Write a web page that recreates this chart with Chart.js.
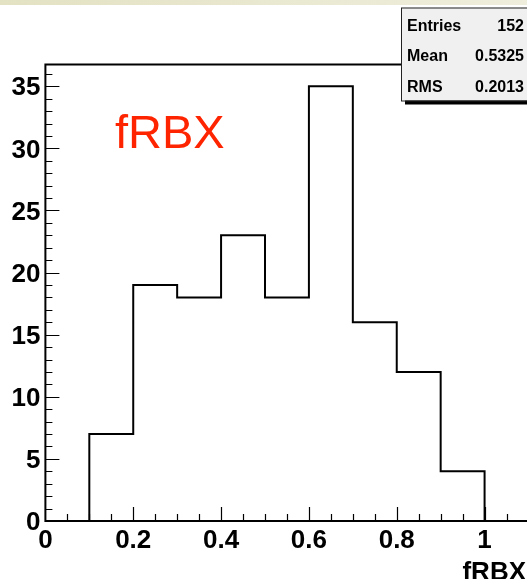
<!DOCTYPE html>
<html>
<head>
<meta charset="utf-8">
<script src="https://cdn.jsdelivr.net/npm/chart.js@4.4.1/dist/chart.umd.min.js"></script>
<style>
  html, body { margin: 0; padding: 0; background: #fff; overflow: hidden; }
  #histo { display: block; }
</style>
</head>
<body>
<canvas id="histo" width="540" height="579"></canvas>
<script>
// bin lower edges and counts (width 0.1)
const binLow = [0, 0.1, 0.2, 0.3, 0.4, 0.5, 0.6, 0.7, 0.8, 0.9, 1.0];
const counts = [0, 7, 19, 18, 23, 18, 35, 16, 12, 4, 0];
const xMax = 1.1;
const yMax = 36.75;

const statLabels = ['Entries', 'Mean', 'RMS'];
const statValues = ['152', '0.5325', '0.2013'];
const histTitle = 'fRBX';
const axisTitle = 'fRBX';

const FONT = '"Liberation Sans", Helvetica, Arial, sans-serif';

const points = binLow.map((x, i) => ({ x: x, y: counts[i] }));
points.push({ x: xMax, y: 0 });

const rootPad = {
  id: 'rootPad',
  beforeDraw(chart) {
    const ctx = chart.ctx;
    const g = ctx.createLinearGradient(0, 0, chart.width, 0);
    g.addColorStop(0, '#e3e2c3');
    g.addColorStop(1, '#efeedd');
    ctx.save();
    ctx.fillStyle = g;
    ctx.fillRect(0, 0, chart.width, 5);
    ctx.restore();
  },
  afterDraw(chart) {
    const ctx = chart.ctx;
    const a = chart.chartArea;
    const xs = chart.scales.x, ys = chart.scales.y;
    ctx.save();

    // ticks inside the frame
    ctx.strokeStyle = '#000';
    ctx.lineWidth = 1.2;
    ctx.beginPath();
    for (let i = 1; i * 0.05 < xMax; i++) {
      const px = Math.round(xs.getPixelForValue(i * 0.05)) + 0.5;
      const len = i % 4 === 0 ? 14 : 7;
      ctx.moveTo(px, a.bottom);
      ctx.lineTo(px, a.bottom - len);
    }
    for (let v = 1; v < yMax; v++) {
      const py = Math.round(ys.getPixelForValue(v)) + 0.5;
      const len = v % 5 === 0 ? 14 : 7;
      ctx.moveTo(a.left, py);
      ctx.lineTo(a.left + len, py);
    }
    ctx.stroke();

    // frame
    ctx.lineWidth = 2;
    ctx.strokeRect(a.left, a.top, a.right - a.left, a.bottom - a.top);

    // histogram title
    ctx.fillStyle = '#ff2400';
    ctx.font = '47px ' + FONT;
    ctx.textAlign = 'left';
    ctx.textBaseline = 'alphabetic';
    ctx.fillText(histTitle, 115, 148);

    // x axis title
    ctx.fillStyle = '#000';
    ctx.font = 'bold 26px ' + FONT;
    ctx.textAlign = 'right';
    ctx.fillText(axisTitle, 526, 580);

    // stats box
    const bx = 401, by = 7.5, bw = 160, bh = 93;
    ctx.fillStyle = '#000';
    ctx.fillRect(bx + 4, by + 4, bw, bh);
    ctx.fillStyle = '#f0f0f0';
    ctx.fillRect(bx, by, bw, bh);
    ctx.lineWidth = 1;
    ctx.strokeStyle = '#222';
    ctx.strokeRect(bx + 0.5, by + 0.5, bw, bh);
    ctx.fillStyle = '#000';
    ctx.font = 'bold 16px ' + FONT;
    statLabels.forEach((t, i) => {
      const yb = 30.5 + i * 30.7;
      ctx.textAlign = 'left';
      ctx.fillText(t, 407, yb);
      ctx.textAlign = 'right';
      ctx.fillText(statValues[i], 524, yb);
    });
    ctx.restore();
  }
};

new Chart(document.getElementById('histo'), {
  type: 'line',
  data: {
    datasets: [{
      label: histTitle,
      data: points,
      stepped: 'before',
      borderColor: '#000',
      borderWidth: 2,
      pointRadius: 0,
      fill: false
    }]
  },
  options: {
    responsive: false,
    animation: false,
    devicePixelRatio: 1,
    layout: { padding: { top: 64.5, right: 11.5, left: 0, bottom: 0 } },
    plugins: { legend: { display: false }, tooltip: { enabled: false } },
    scales: {
      x: {
        type: 'linear',
        min: 0,
        max: xMax,
        grid: { display: false, drawTicks: false },
        border: { display: false },
        afterFit(scale) { scale.height = 58; },
        ticks: {
          stepSize: 0.2,
          includeBounds: false,
          padding: 4,
          maxRotation: 0,
          autoSkip: false,
          color: '#000',
          font: { family: FONT, size: 26, weight: 'bold' },
          callback: (v) => {
            const r = Math.round(v * 10) / 10;
            if (Math.abs(r * 5 - Math.round(r * 5)) > 1e-6 || r > 1.01) return '';
            return String(r);
          }
        }
      },
      y: {
        min: 0,
        max: yMax,
        grid: { display: false, drawTicks: false },
        border: { display: false },
        afterFit(scale) { scale.width = 45.4; },
        ticks: {
          stepSize: 5,
          includeBounds: false,
          padding: 5,
          labelOffset: 2,
          color: '#000',
          font: { family: FONT, size: 26, weight: 'bold' },
          callback: (v) => (v % 5 === 0 ? String(v) : '')
        }
      }
    }
  },
  plugins: [rootPad]
});
</script>
</body>
</html>
